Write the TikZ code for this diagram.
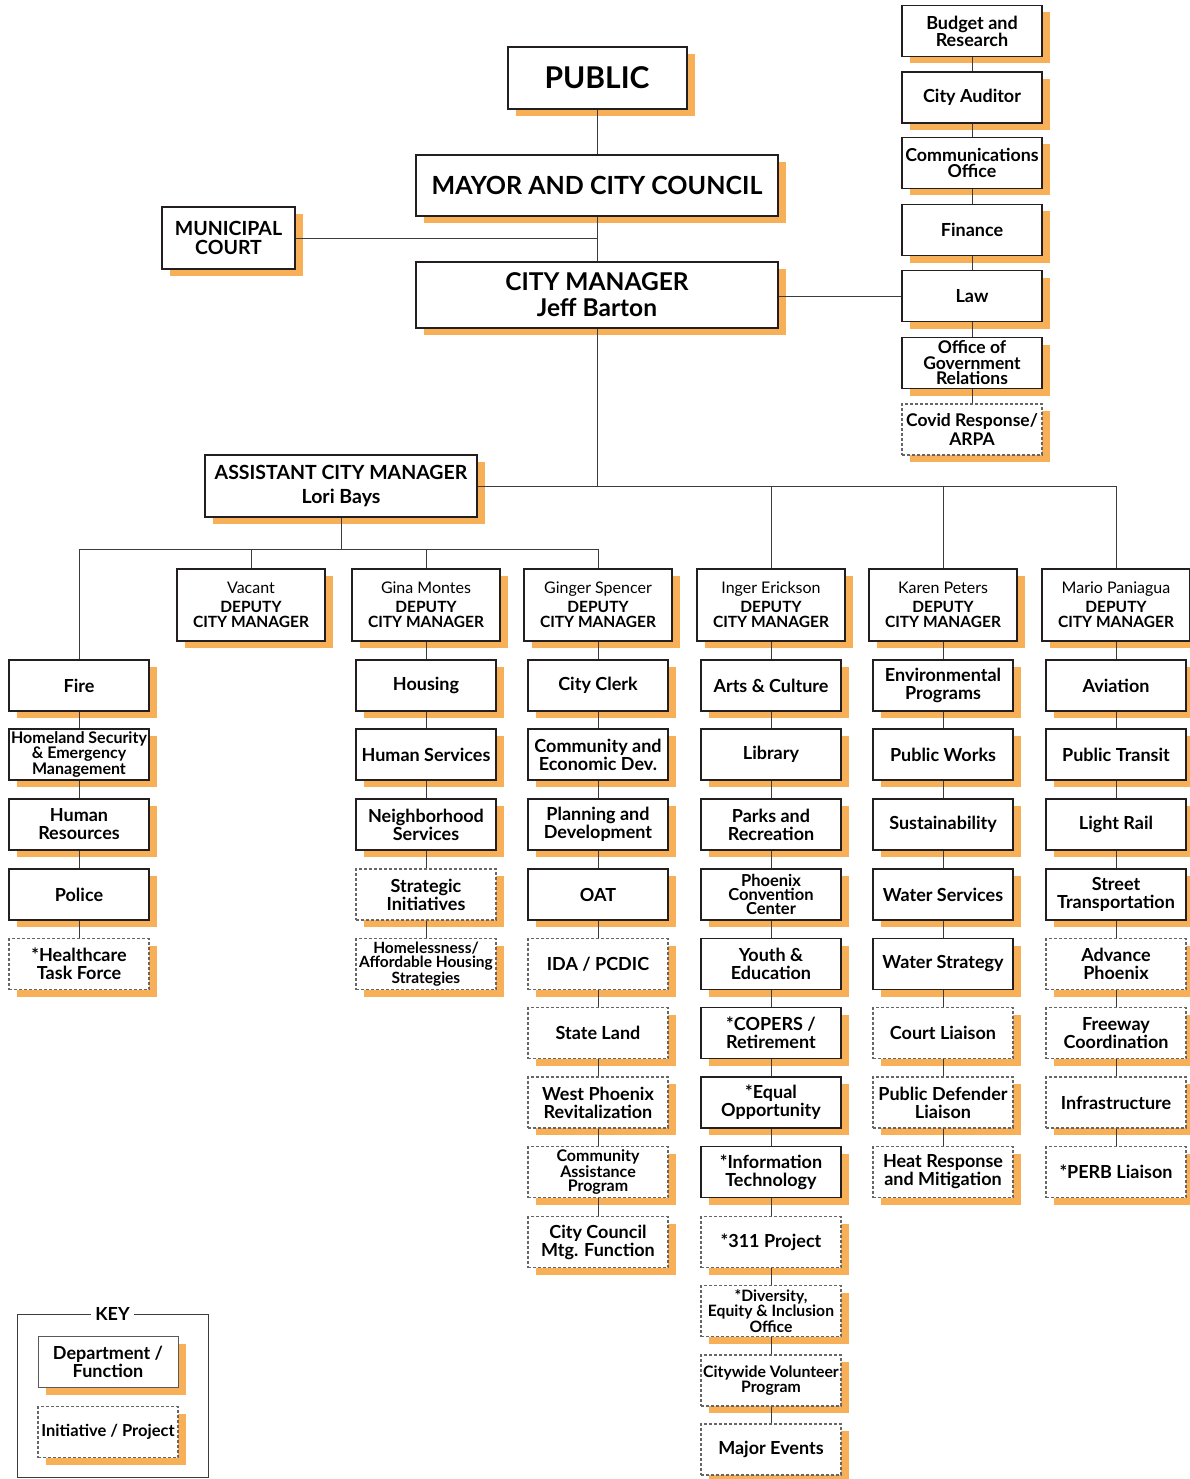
\documentclass[tikz,border=0pt]{standalone}
\usepackage{fontspec}
\setmainfont{Lato}
\usetikzlibrary{shadows}
\definecolor{shade}{RGB}{248,176,88}
\definecolor{ink}{RGB}{35,31,32}
\definecolor{wire}{RGB}{60,60,60}
\newcommand{\fsz}[2]{\fontsize{#1}{#2}\selectfont}

\tikzset{
  base/.style={fill=white, align=center, inner sep=1pt,
    general shadow={fill=shade, shadow xshift=8pt, shadow yshift=-7pt}},
  dept/.style={base, draw=ink, line width=1.3pt, minimum width=140pt, minimum height=51pt, font=\fsz{18}{18}\bfseries},
  proj/.style={dept, draw=gray!80!black, line width=1.1pt, dash pattern=on 3pt off 2pt},
  small/.style={font=\fsz{16}{14}\bfseries},
  deputy/.style={base, draw=ink, line width=2pt, minimum width=148pt, minimum height=72pt, font=\fsz{15.5}{15}\bfseries},
  topbox/.style={base, draw=ink, line width=2pt},
  conn/.style={draw=wire, line width=0.9pt},
}

\begin{document}
\begin{tikzpicture}[x=1pt,y=-1pt]
\useasboundingbox (0,0) rectangle (1190,1479);

\node[topbox, minimum width=179, minimum height=62, font=\fsz{30}{30}\bfseries] (public) at (597,78) {PUBLIC};
\node[topbox, minimum width=362, minimum height=61, font=\fsz{25}{25}\bfseries] (mayor) at (597,185.5) {MAYOR AND CITY COUNCIL};
\node[topbox, minimum width=133, minimum height=62, font=\fsz{19.5}{19}\bfseries] (court) at (228.5,238) {MUNICIPAL\\COURT};
\node[topbox, minimum width=362, minimum height=66, font=\fsz{24.5}{26}\bfseries] (cm) at (597,295) {CITY MANAGER\\Jeff Barton};
\node[topbox, minimum width=272, minimum height=62, font=\fsz{19.5}{24}\bfseries] (acm) at (341,486) {ASSISTANT CITY MANAGER\\Lori Bays};

\node[dept, font=\fsz{18}{17}\bfseries] (budget) at (972,31) {Budget and\\Research};
\node[dept] (auditor) at (972,97.5) {City Auditor};
\node[dept, font=\fsz{17.8}{16}\bfseries] (comms) at (972,163) {Communications\\Office};
\node[dept] (finance) at (972,230) {Finance};
\node[dept] (law) at (972,296) {Law};
\node[dept, font=\fsz{17.5}{15.5}\bfseries] (ogr) at (972,363) {Office of\\Government\\Relations};
\node[proj, font=\fsz{17.5}{19}\bfseries] (covid) at (972,429.5) {Covid Response/\\ARPA};

\node[deputy] (vacant) at (251,605) {{\mdseries\fsz{16}{15}Vacant}\\[4pt]DEPUTY\\CITY MANAGER};
\node[deputy] (gina) at (426,605) {{\mdseries\fsz{16}{15}Gina Montes}\\[4pt]DEPUTY\\CITY MANAGER};
\node[deputy] (ginger) at (598,605) {{\mdseries\fsz{16}{15}Ginger Spencer}\\[4pt]DEPUTY\\CITY MANAGER};
\node[deputy] (inger) at (771,605) {{\mdseries\fsz{16}{15}Inger Erickson}\\[4pt]DEPUTY\\CITY MANAGER};
\node[deputy] (karen) at (943,605) {{\mdseries\fsz{16}{15}Karen Peters}\\[4pt]DEPUTY\\CITY MANAGER};
\node[deputy] (mario) at (1116,605) {{\mdseries\fsz{16}{15}Mario Paniagua}\\[4pt]DEPUTY\\CITY MANAGER};

\node[dept] (fire) at (79,685.5) {Fire};
\node[dept, small] (hsem) at (79,754.5) {Homeland Security\\\& Emergency\\Management};
\node[dept] (hr) at (79,824.5) {Human\\Resources};
\node[dept] (police) at (79,894.5) {Police};
\node[proj] (health) at (79,964) {*Healthcare\\Task Force};

\node[dept] (housing) at (426,685.5) {Housing};
\node[dept] (humsvc) at (426,754.5) {Human Services};
\node[dept] (nsd) at (426,824.5) {Neighborhood\\Services};
\node[proj] (strat) at (426,894.5) {Strategic\\Initiatives};
\node[proj, font=\fsz{15.5}{14}\bfseries] (homeless) at (426,964) {Homelessness/\\Affordable Housing\\Strategies};

\node[dept] (clerk) at (598,685.5) {City Clerk};
\node[dept] (ced) at (598,754.5) {Community and\\Economic Dev.};
\node[dept] (pdd) at (598,824.5) {Planning and\\Development};
\node[dept] (oat) at (598,894.5) {OAT};
\node[proj] (ida) at (598,964) {IDA / PCDIC};
\node[proj] (stateland) at (598,1033) {State Land};
\node[proj] (westphx) at (598,1102.5) {West Phoenix\\Revitalization};
\node[proj, small] (cap) at (598,1172) {Community\\Assistance\\Program};
\node[proj] (ccmtg) at (598,1242) {City Council\\Mtg. Function};

\node[dept] (arts) at (771,685.5) {Arts \& Culture};
\node[dept] (library) at (771,754.5) {Library};
\node[dept] (parks) at (771,824.5) {Parks and\\Recreation};
\node[dept, font=\fsz{16.5}{14}\bfseries] (pcc) at (771,894.5) {Phoenix\\Convention\\Center};
\node[dept] (youth) at (771,964) {Youth \&\\Education};
\node[dept] (copers) at (771,1033) {*COPERS /\\Retirement};
\node[dept] (eo) at (771,1102.5) {*Equal\\Opportunity};
\node[dept] (it) at (771,1172) {*Information\\Technology};
\node[proj] (p311) at (771,1242) {*311 Project};
\node[proj, font=\fsz{15.7}{14}\bfseries] (dei) at (771,1311) {*Diversity,\\Equity \& Inclusion\\Office};
\node[proj, font=\fsz{15.8}{15}\bfseries] (volunteer) at (771,1380.5) {Citywide Volunteer\\Program};
\node[proj] (events) at (771,1449.5) {Major Events};

\node[dept] (env) at (943,685.5) {Environmental\\Programs};
\node[dept] (pw) at (943,754.5) {Public Works};
\node[dept] (sust) at (943,824.5) {Sustainability};
\node[dept] (water) at (943,894.5) {Water Services};
\node[dept] (wstrat) at (943,964) {Water Strategy};
\node[proj] (courtl) at (943,1033) {Court Liaison};
\node[proj] (pdl) at (943,1102.5) {Public Defender\\Liaison};
\node[proj] (heat) at (943,1172) {Heat Response\\and Mitigation};

\node[dept] (aviation) at (1116,685.5) {Aviation};
\node[dept] (transit) at (1116,754.5) {Public Transit};
\node[dept] (rail) at (1116,824.5) {Light Rail};
\node[dept] (street) at (1116,894.5) {Street\\Transportation};
\node[proj] (advance) at (1116,964) {Advance\\Phoenix};
\node[proj] (freeway) at (1116,1033) {Freeway\\Coordination};
\node[proj] (infra) at (1116,1102.5) {Infrastructure};
\node[proj] (perb) at (1116,1172) {*PERB Liaison};

\node[draw=wire, line width=1pt, minimum width=191, minimum height=163] (keyframe) at (112.5,1395.5) {};
\node[fill=white, inner sep=4pt, font=\fsz{18}{18}\bfseries] (keytitle) at (keyframe.north) {KEY};
\node[dept, draw=gray!70!black, line width=1pt] (keydept) at (108,1362) {Department /\\Function};
\node[proj, font=\fsz{16.5}{17}\bfseries] (keyproj) at (108,1432) {Initiative / Project};

\draw[conn] (public) -- (mayor);
\draw[conn] (mayor) -- (cm);
\draw[conn] (court.east) -- (court.east -| mayor.south);
\draw[conn] (cm.east |- law) -- (law);
\foreach \a/\b in {budget/auditor, auditor/comms, comms/finance, finance/law, law/ogr, ogr/covid}
  \draw[conn] (\a) -- (\b);

\draw[conn] (cm) -- (cm |- acm.east);
\draw[conn] (acm.east) -- (acm.east -| mario.north) -- (mario.north);
\draw[conn] (inger.north) -- (inger.north |- acm.east);
\draw[conn] (karen.north) -- (karen.north |- acm.east);

\coordinate (split) at (341,549);
\draw[conn] (acm) -- (split);
\draw[conn] (fire.north) |- (split -| ginger.north) -- (ginger.north);
\draw[conn] (vacant.north) -- (vacant.north |- split);
\draw[conn] (gina.north) -- (gina.north |- split);

\foreach \a/\b in {fire/hsem, hsem/hr, hr/police, police/health,
  gina/housing, housing/humsvc, humsvc/nsd, nsd/strat, strat/homeless,
  ginger/clerk, clerk/ced, ced/pdd, pdd/oat, oat/ida, ida/stateland, stateland/westphx, westphx/cap, cap/ccmtg,
  inger/arts, arts/library, library/parks, parks/pcc, pcc/youth, youth/copers, copers/eo, eo/it, it/p311, p311/dei, dei/volunteer, volunteer/events,
  karen/env, env/pw, pw/sust, sust/water, water/wstrat, wstrat/courtl, courtl/pdl, pdl/heat,
  mario/aviation, aviation/transit, transit/rail, rail/street, street/advance, advance/freeway, freeway/infra, infra/perb}
  \draw[conn] (\a) -- (\b);
\end{tikzpicture}
\end{document}
